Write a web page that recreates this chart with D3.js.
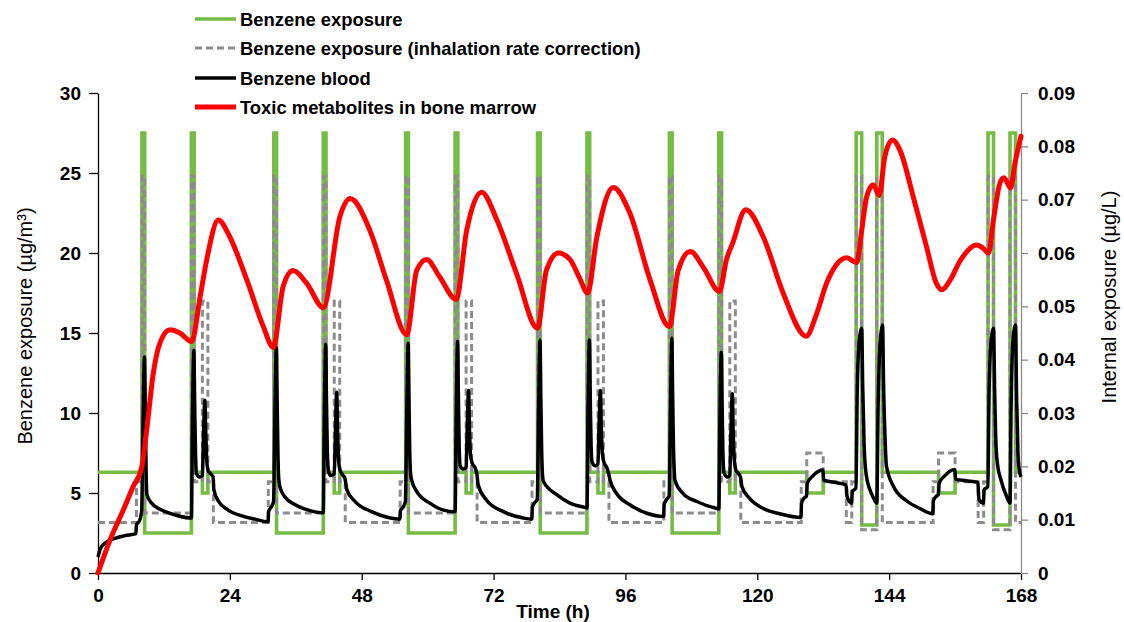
<!DOCTYPE html>
<html>
<head>
<meta charset="utf-8">
<script src="https://cdn.jsdelivr.net/npm/d3@7"></script>
<style>
  html, body { margin: 0; padding: 0; background: #fff; }
  svg { display: block; }
</style>
</head>
<body>
<svg id="chart" width="1124" height="622"></svg>
<script>
// ---- data -------------------------------------------------------------
// Time axis (hours over one week)
const hourTicks = [0, 24, 48, 72, 96, 120, 144, 168];
// Left axis: benzene air concentration (µg/m³)
const exposureTicks = [0, 5, 10, 15, 20, 25, 30];
// Right axis: internal exposure (µg/L)
const internalTicks = [0, 0.01, 0.02, 0.03, 0.04, 0.05, 0.06, 0.07, 0.08, 0.09];

const seriesLabels = [
  "Benzene exposure",
  "Benzene exposure (inhalation rate correction)",
  "Benzene blood",
  "Toxic metabolites in bone marrow"
];

// Benzene exposure, step changes [hour, µg/m³]
const exposureSteps = [
  [0, 6.3], [8, 27.5], [8.5, 2.5], [17, 27.5], [17.5, 6.3], [19, 5], [20, 6.3],
  [32, 27.5], [32.5, 2.5], [41, 27.5], [41.5, 6.3], [43, 5], [44, 6.3],
  [56, 27.5], [56.5, 2.5], [65, 27.5], [65.5, 6.3], [67, 5], [68, 6.3],
  [80, 27.5], [80.5, 2.5], [89, 27.5], [89.5, 6.3], [91, 5], [92, 6.3],
  [104, 27.5], [104.5, 2.5], [113, 27.5], [113.5, 6.3], [115, 5], [116, 6.3],
  [129, 5], [132, 6.3], [138, 27.5], [139, 3.0], [141.75, 27.5], [142.75, 6.3],
  [153, 5], [156, 6.3], [162, 27.5], [163, 3.0], [166, 27.5], [167, 6.3], [168, 6.3]
];

// Exposure corrected for inhalation rate, step changes [hour, µg/m³]
const correctedSteps = [
  [0, 3.15], [7, 5.7], [8, 24.8], [8.5, 3.75], [17, 24.8], [17.5, 5.7], [19, 17], [20, 5.7], [21, 3.15],
  [31, 5.7], [32, 24.8], [32.5, 3.75], [41, 24.8], [41.5, 5.7], [43, 17], [44, 5.7], [45, 3.15],
  [55, 5.7], [56, 24.8], [56.5, 3.75], [65, 24.8], [65.5, 5.7], [67, 17], [68, 5.7], [69, 3.15],
  [79, 5.7], [80, 24.8], [80.5, 3.75], [89, 24.8], [89.5, 5.7], [91, 17], [92, 5.7], [93, 3.15],
  [103, 5.7], [104, 24.8], [104.5, 3.75], [113, 24.8], [113.5, 5.7], [115, 17], [116, 5.7], [117, 3.15],
  [128, 5.7], [129, 7.5], [132, 5.7], [136.2, 3.15], [137.2, 5.7], [138, 24.8], [139, 2.7], [141.75, 24.8], [142.75, 3.15],
  [152, 5.7], [153, 7.5], [156, 5.7], [160.2, 3.15], [161.2, 5.7], [162, 24.8], [163, 2.7], [166, 24.8], [167, 3.15], [168, 3.15]
];

// Benzene in blood [hour, µg/L]
const bloodConc = [
  [0, 0.0030], [0.4, 0.0045], [1.3, 0.0056], [3.1, 0.0065], [4.9, 0.0070], [6.9, 0.0074],
  [7.0, 0.0090], [7.6, 0.0099], [7.95, 0.0117], [8.2, 0.0285], [8.45, 0.0405], [8.6, 0.0315],
  [8.75, 0.0195], [8.9, 0.0147], [9.75, 0.0131], [11.6, 0.0118], [14.0, 0.0109], [17.0, 0.0103],
  [17.2, 0.0300], [17.45, 0.0417], [17.6, 0.0315], [17.75, 0.0225], [17.95, 0.0186], [18.5, 0.0180],
  [19.0, 0.0183], [19.2, 0.0255], [19.45, 0.0324], [19.6, 0.0270], [19.8, 0.0210], [20.05, 0.0192],
  [20.5, 0.0186], [20.95, 0.0180], [21.1, 0.0156], [21.9, 0.0135], [23.7, 0.0118], [26.2, 0.0107],
  [28.6, 0.0101], [30.95, 0.0096], [31.05, 0.0115], [31.6, 0.0125], [31.95, 0.0134],
  [32.2, 0.0300], [32.45, 0.0423], [32.6, 0.0330], [32.75, 0.0225], [32.9, 0.0177], [33.1, 0.0162],
  [34.0, 0.0143], [35.9, 0.0128], [38.3, 0.0118], [41.0, 0.0113],
  [41.2, 0.0300], [41.45, 0.0429], [41.6, 0.0315], [41.75, 0.0225], [41.95, 0.0192], [42.3, 0.0183],
  [43.0, 0.0186], [43.2, 0.0258], [43.45, 0.0339], [43.6, 0.0270], [43.8, 0.0210], [44.05, 0.0193],
  [44.6, 0.0183], [44.95, 0.0177], [45.3, 0.0156], [46.8, 0.0134], [49.8, 0.0115], [52.8, 0.0104],
  [54.95, 0.0101], [55.05, 0.0117], [55.5, 0.0123], [55.95, 0.0134],
  [56.2, 0.0300], [56.45, 0.0431], [56.6, 0.0330], [56.75, 0.0225], [56.9, 0.0186], [57.1, 0.0174],
  [58.0, 0.0153], [60.4, 0.0131], [62.9, 0.0118], [65.0, 0.0115],
  [65.2, 0.0300], [65.45, 0.0434], [65.6, 0.0330], [65.75, 0.0234], [65.95, 0.0200], [66.5, 0.0195],
  [67.0, 0.0198], [67.2, 0.0270], [67.45, 0.0342], [67.6, 0.0276], [67.8, 0.0222], [68.1, 0.0206],
  [68.6, 0.0198], [68.95, 0.0186], [69.2, 0.0165], [70.7, 0.0137], [73.8, 0.0115], [77.4, 0.0103],
  [78.95, 0.0101], [79.05, 0.0123], [79.5, 0.0132], [79.95, 0.0138],
  [80.2, 0.0315], [80.45, 0.0437], [80.6, 0.0330], [80.75, 0.0234], [80.9, 0.0186], [81.1, 0.0171],
  [83.5, 0.0147], [85.9, 0.0131], [88.6, 0.0123], [89.0, 0.0122],
  [89.2, 0.0315], [89.45, 0.0437], [89.6, 0.0330], [89.75, 0.0240], [89.95, 0.0207], [90.5, 0.0201],
  [91.0, 0.0204], [91.2, 0.0276], [91.45, 0.0342], [91.6, 0.0276], [91.8, 0.0225], [92.1, 0.0207],
  [92.6, 0.0198], [92.95, 0.0186], [93.2, 0.0174], [94.4, 0.0149], [96.8, 0.0128], [99.9, 0.0112],
  [102.95, 0.0106], [103.05, 0.0129], [103.5, 0.0138], [103.95, 0.0144],
  [104.2, 0.0315], [104.45, 0.0440], [104.6, 0.0330], [104.75, 0.0234], [104.9, 0.0189], [105.0, 0.0174],
  [106.5, 0.0149], [109.0, 0.0134], [112.6, 0.0121], [113.0, 0.0120],
  [113.2, 0.0300], [113.45, 0.0414], [113.6, 0.0315], [113.75, 0.0225], [113.95, 0.0188], [114.5, 0.0180],
  [115.0, 0.0183], [115.2, 0.0264], [115.45, 0.0336], [115.6, 0.0270], [115.8, 0.0216], [116.1, 0.0193],
  [116.6, 0.0186], [116.95, 0.0180], [117.2, 0.0162], [118.6, 0.0140], [121.1, 0.0121], [124.1, 0.0111],
  [127.95, 0.0104], [128.05, 0.0131], [128.5, 0.0140], [128.95, 0.0144], [129.1, 0.0168], [130.2, 0.0183],
  [131.95, 0.0193], [132.1, 0.0174], [134.0, 0.0170], [136.15, 0.0165], [136.35, 0.0143], [137.15, 0.0131],
  [137.3, 0.0153], [137.95, 0.0159],
  [138.2, 0.0345], [138.5, 0.0429], [138.8, 0.0453], [139.0, 0.0459], [139.2, 0.0345], [139.45, 0.0240],
  [139.8, 0.0186], [140.5, 0.0156], [141.0, 0.0144], [141.75, 0.0131],
  [142.0, 0.0315], [142.3, 0.0423], [142.6, 0.0456], [142.8, 0.0465], [143.0, 0.0345], [143.25, 0.0255],
  [143.5, 0.0201], [144.8, 0.0162], [147.2, 0.0135], [149.6, 0.0121], [151.95, 0.0111],
  [152.05, 0.0135], [152.5, 0.0143], [152.95, 0.0147], [153.1, 0.0168], [154.2, 0.0183], [155.95, 0.0194],
  [156.1, 0.0176], [158.0, 0.0173], [160.15, 0.0170], [160.35, 0.0138], [161.15, 0.0131], [161.3, 0.0156],
  [161.95, 0.0162],
  [162.2, 0.0345], [162.5, 0.0429], [162.8, 0.0453], [163.0, 0.0459], [163.2, 0.0345], [163.45, 0.0240],
  [163.8, 0.0198], [164.2, 0.0180], [165.4, 0.0143], [166.0, 0.0131],
  [166.2, 0.0315], [166.5, 0.0429], [166.8, 0.0459], [167.0, 0.0465], [167.2, 0.0330], [167.45, 0.0225],
  [167.7, 0.0192], [168.0, 0.0180]
];

// Toxic metabolites in bone marrow [hour, µg/L]
const marrowMetabolites = [
  [0, 0], [2.2, 0.0062], [4.6, 0.0118], [6.4, 0.0162], [7.95, 0.0198], [8.85, 0.0267],
  [10.07, 0.0375], [11.3, 0.0432], [13.1, 0.0456], [14.9, 0.0450], [17.05, 0.0434],
  [18.6, 0.0519], [19.8, 0.0588], [21.9, 0.0662], [24.0, 0.0630], [27.1, 0.0549], [30.1, 0.0462],
  [31.9, 0.0423], [33.7, 0.0537], [35.5, 0.0567], [38.0, 0.0543], [41.0, 0.0498],
  [44.05, 0.0669], [45.9, 0.0702], [49.5, 0.0642], [52.5, 0.0549], [56.2, 0.0447],
  [58.0, 0.0567], [59.8, 0.0588], [62.2, 0.0555], [65.2, 0.0513],
  [67.1, 0.0642], [69.8, 0.0714], [72.6, 0.0662], [76.2, 0.0561], [80.0, 0.0459],
  [81.6, 0.0567], [83.8, 0.0600], [85.9, 0.0588], [87.7, 0.0552], [89.1, 0.0525],
  [90.8, 0.0630], [93.8, 0.0723], [96.8, 0.0675], [100.5, 0.0549], [104.0, 0.0462],
  [105.6, 0.0567], [107.8, 0.0603], [110.2, 0.0573], [113.1, 0.0528],
  [114.4, 0.0588], [115.5, 0.0618], [117.9, 0.0681], [121.1, 0.0630], [124.7, 0.0525], [128.9, 0.0444],
  [130.8, 0.0486], [132.6, 0.0543], [134.4, 0.0578], [136.3, 0.0591], [138.1, 0.0582],
  [139.0, 0.0642], [139.9, 0.0705], [141.1, 0.0728], [142.2, 0.0708], [143.2, 0.0780],
  [144.6, 0.0812], [146.0, 0.0792], [148.4, 0.0705], [150.8, 0.0612], [152.6, 0.0543],
  [153.6, 0.0531], [155.1, 0.0549], [156.9, 0.0585], [159.9, 0.0615], [161.1, 0.0609],
  [162.1, 0.0600], [163.0, 0.0663], [164.2, 0.0732], [164.9, 0.0741], [166.1, 0.0722],
  [166.9, 0.0768], [168.0, 0.0819]
];

// ---- drawing ----------------------------------------------------------
const svg = d3.select("#chart");
const FONT = "'Liberation Sans', Arial, 'DejaVu Sans', sans-serif";
const colors = { exposure: "#74bc43", corrected: "#8c8c8c", blood: "#000000", marrow: "#ff0000" };

const x = d3.scaleLinear().domain([0, 168]).range([98, 1021]);
const yLeft = d3.scaleLinear().domain([0, 30]).range([573, 93]);
const yRight = d3.scaleLinear().domain([0, 0.09]).range([573, 93]);

const stepLine = d3.line()
  .x(d => x(d[0])).y(d => yLeft(d[1]))
  .curve(d3.curveStepAfter);
const bloodLine = d3.line()
  .x(d => x(d[0])).y(d => yRight(d[1]))
  .curve(d3.curveMonotoneX);
const marrowLine = d3.line()
  .x(d => x(d[0])).y(d => yRight(d[1]))
  .curve(d3.curveMonotoneX);

// axes
const axisStyle = g => {
  g.selectAll("text")
    .attr("font-family", FONT)
    .attr("font-size", 19)
    .attr("font-weight", "bold")
    .attr("fill", "#000");
};

svg.append("g")
  .attr("transform", `translate(0,${yLeft(0)})`)
  .call(d3.axisBottom(x).tickValues(hourTicks).tickSize(7).tickPadding(9).tickSizeOuter(0))
  .call(axisStyle)
  .call(g => g.selectAll("path,line").attr("stroke", "#000").attr("stroke-width", 1.3));

svg.append("g")
  .attr("transform", `translate(${x(0)},0)`)
  .call(d3.axisLeft(yLeft).tickValues(exposureTicks).tickSize(9).tickPadding(8).tickSizeOuter(0))
  .call(axisStyle)
  .call(g => g.selectAll("path,line").attr("stroke", "#000").attr("stroke-width", 1.3));

svg.append("g")
  .attr("transform", `translate(${x(168)},0)`)
  .call(d3.axisRight(yRight).tickValues(internalTicks).tickSize(7).tickPadding(10).tickSizeOuter(0)
    .tickFormat(d => d === 0 ? "0" : d3.format(".2f")(d)))
  .call(axisStyle)
  .call(g => g.selectAll("path,line").attr("stroke", "#8a8a8a").attr("stroke-width", 1.3));

// axis titles
svg.append("text")
  .attr("transform", "translate(27,326) rotate(-90)")
  .attr("text-anchor", "middle").attr("dominant-baseline", "middle")
  .attr("font-family", FONT).attr("font-size", 20)
  .text("Benzene exposure (µg/m³)");

svg.append("text")
  .attr("transform", "translate(1111,297) rotate(-90)")
  .attr("text-anchor", "middle").attr("dominant-baseline", "middle")
  .attr("font-family", FONT).attr("font-size", 20)
  .text("Internal exposure (µg/L)");

svg.append("text")
  .attr("x", 553).attr("y", 618)
  .attr("text-anchor", "middle")
  .attr("font-family", FONT).attr("font-size", 19).attr("font-weight", "bold")
  .text("Time (h)");

// series
const plot = svg.append("g");
plot.append("path").datum(exposureSteps)
  .attr("d", stepLine).attr("fill", "none")
  .attr("stroke", colors.exposure).attr("stroke-width", 3.6)
  .attr("stroke-linejoin", "miter");

plot.append("path").datum(correctedSteps)
  .attr("d", stepLine).attr("fill", "none")
  .attr("stroke", colors.corrected).attr("stroke-width", 3)
  .attr("stroke-dasharray", "7,4");

plot.append("path").datum(bloodConc)
  .attr("d", bloodLine).attr("fill", "none")
  .attr("stroke", colors.blood).attr("stroke-width", 3.5)
  .attr("stroke-linejoin", "round");

plot.append("path").datum(marrowMetabolites)
  .attr("d", marrowLine).attr("fill", "none")
  .attr("stroke", colors.marrow).attr("stroke-width", 5)
  .attr("stroke-linejoin", "round").attr("stroke-linecap", "round");

// legend
const legendStyles = [
  { color: colors.exposure, width: 3.6, dash: null },
  { color: colors.corrected, width: 3, dash: "7,4" },
  { color: colors.blood, width: 3.5, dash: null },
  { color: colors.marrow, width: 5, dash: null }
];
const legendRows = [19, 48, 78, 107];
const legend = svg.append("g");
seriesLabels.forEach((label, i) => {
  const row = legend.append("g").attr("transform", `translate(0,${legendRows[i]})`);
  row.append("line")
    .attr("x1", 195).attr("x2", 236).attr("y1", 0).attr("y2", 0)
    .attr("stroke", legendStyles[i].color)
    .attr("stroke-width", legendStyles[i].width)
    .attr("stroke-dasharray", legendStyles[i].dash);
  row.append("text")
    .attr("x", 240).attr("y", 0)
    .attr("dominant-baseline", "central")
    .attr("font-family", FONT).attr("font-size", 18.4).attr("font-weight", "bold")
    .text(label);
});
</script>
</body>
</html>
